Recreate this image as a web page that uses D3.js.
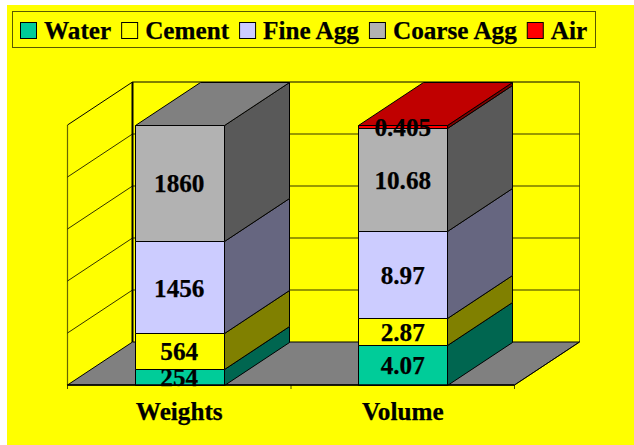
<!DOCTYPE html>
<html><head><meta charset="utf-8">
<script src="https://cdn.jsdelivr.net/npm/d3@7"></script>
<style>html,body{margin:0;padding:0;background:#fff}svg{display:block}text{font-family:"Liberation Serif",serif;font-weight:bold;fill:#000;stroke:#000;stroke-width:.25px}</style>
</head><body><svg id="c" width="634" height="445"></svg>
<script>
const categories = ["Weights","Volume"];
const seriesNames = ["Water","Cement","Fine Agg","Coarse Agg","Air"];
const water = [254,4.07];
const cement = [564,2.87];
const fineAgg = [1456,8.97];
const coarseAgg = [1860,10.68];
const air = [null,0.405];
const labelText = [["254","4.07"],["564","2.87"],["1456","8.97"],["1860","10.68"],[null,"0.405"]];
const frontColors = ["#00CC99","#FFFF00","#CCCCFF","#B2B2B2","#FF0000"];
const sideColors = ["#006650","#808000","#666680","#595959","#800000"];
const topColors = ["#00A07A","#C0C000","#A0A0C8","#808080","#C00000"];
const yTicks = [0,0.2,0.4,0.6,0.8,1];

const svg = d3.select("#c");
const dx = 65, dy = -43, fs = 25.2;
const x = d3.scaleBand().domain(categories).range([67.5,514.5]).paddingInner(0.6).paddingOuter(0.3);
const y = d3.scaleLinear().domain([0,1]).range([385,125]);
const rows = categories.map((c,i)=>({c,s0:water[i],s1:cement[i],s2:fineAgg[i],s3:coarseAgg[i],s4:air[i]||0}));
const stacked = d3.stack().keys(["s0","s1","s2","s3","s4"]).offset(d3.stackOffsetExpand)(rows);
const poly = p => p.map(q=>q.join(",")).join(" ");
const snap = v => Math.round(v)+.5;

svg.append("rect").attr("x",7).attr("y",5).attr("width",627).attr("height",440).attr("fill","#FFFF00");

// legend
svg.append("rect").attr("x",12.5).attr("y",11.5).attr("width",583).attr("height",36).attr("fill","#FFFF00").attr("stroke","#000").attr("stroke-opacity",.65).attr("stroke-width",1);
let lx = 20.5;
seriesNames.forEach((n,i)=>{
  svg.append("rect").attr("x",lx).attr("y",22.5).attr("width",16).attr("height",16).attr("fill",frontColors[i]).attr("stroke","#000");
  const t = svg.append("text").attr("x",lx+23.5).attr("y",39).attr("font-size",fs).text(n);
  lx += 23.5 + t.node().getComputedTextLength() + 10.5;
});

const x0=x.range()[0], x1=x.range()[1], yb=y(0), yt=y(1);
// floor
svg.append("polygon").attr("points",poly([[x0,yb],[x1,yb],[x1+dx,yb+dy],[x0+dx,yb+dy]])).attr("fill","#808080").attr("stroke","#000").attr("stroke-width",1);
// grid
const grid = svg.append("g").attr("fill","none").attr("stroke","#000");
yTicks.forEach(v=>{
  if(v>0) grid.append("polyline").attr("points",poly([[x0,y(v)],[x0+dx,y(v)+dy],[x1+dx,y(v)+dy]])).attr("stroke-width",1).attr("stroke-opacity",v==1?1:.8);
});
grid.append("line").attr("x1",x0+dx).attr("x2",x0+dx).attr("y1",yt+dy).attr("y2",yb+dy).attr("stroke-width",2);
grid.append("line").attr("x1",x1+dx).attr("x2",x1+dx).attr("y1",yt+dy).attr("y2",yb+dy).attr("stroke-opacity",.6);
grid.append("line").attr("x1",x0).attr("x2",x0).attr("y1",yt).attr("y2",yb).attr("stroke-opacity",.6).attr("stroke-width",1.2);
grid.append("line").attr("x1",x1).attr("x2",x1+dx).attr("y1",yb).attr("y2",yb+dy).attr("stroke-opacity",.7);

// bars
categories.forEach((c,ci)=>{
  const bx=snap(x(c)), bw=Math.round(x.bandwidth());
  const g=svg.append("g").attr("stroke","#000").attr("stroke-width",1).attr("stroke-linejoin","round");
  stacked.forEach((s,si)=>{
    const d=s[ci]; if(d[1]-d[0]<=0) return;
    const a=snap(y(d[0])-.5), b=snap(y(d[1])-.5);
    g.append("polygon").attr("points",poly([[bx+bw,a],[bx+bw+dx,a+dy],[bx+bw+dx,b+dy],[bx+bw,b]])).attr("fill",sideColors[si]);
    g.append("rect").attr("x",bx).attr("y",b).attr("width",bw).attr("height",a-b).attr("fill",frontColors[si]);
  });
  const top = stacked.filter(s=>s[ci][1]-s[ci][0]>0).pop();
  const b=snap(y(top[ci][1])-.5);
  g.append("polygon").attr("points",poly([[bx,b],[bx+bw,b],[bx+bw+dx,b+dy],[bx+dx,b+dy]])).attr("fill",topColors[top.index]);
});

// axis
svg.append("line").attr("x1",x0).attr("x2",x1).attr("y1",yb).attr("y2",yb).attr("stroke","#000").attr("stroke-width",1.5);
[x0,(x0+x1)/2,x1].forEach(t=>svg.append("line").attr("x1",t).attr("x2",t).attr("y1",yb).attr("y2",yb+4).attr("stroke","#000").attr("stroke-opacity",.7));

// labels
categories.forEach((c,ci)=>{
  stacked.forEach((s,si)=>{
    const lab=labelText[si][ci]; if(!lab) return;
    const d=s[ci];
    svg.append("text").attr("x",x(c)+x.bandwidth()/2).attr("y",y((d[0]+d[1])/2)+9).attr("text-anchor","middle").attr("font-size",fs).text(lab);
  });
  svg.append("text").attr("x",x(c)+x.bandwidth()/2).attr("y",420).attr("text-anchor","middle").attr("font-size",fs).text(c);
});
</script></body></html>
